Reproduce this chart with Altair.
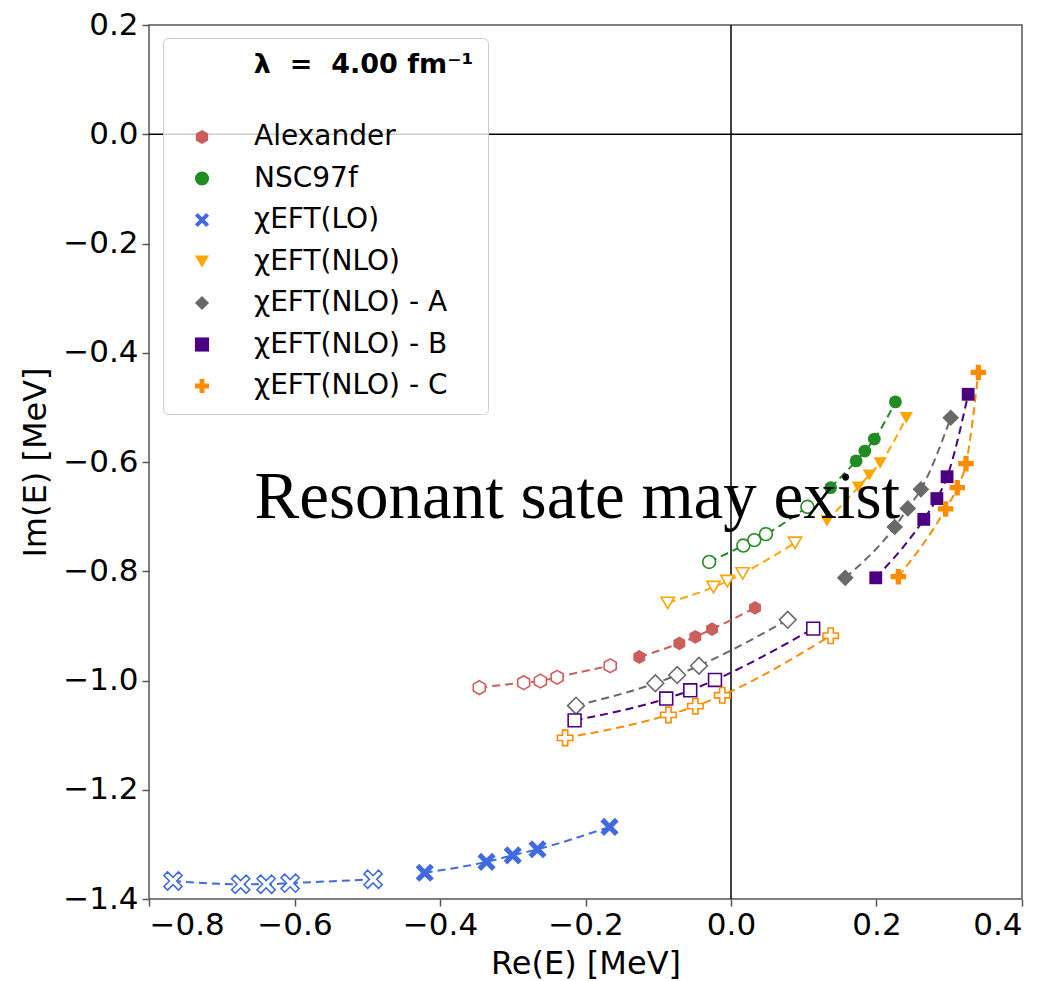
import altair as alt
import pandas as pd

# ---------------- data ----------------
models = ["Alexander", "NSC97f", "χEFT(LO)", "χEFT(NLO)",
          "χEFT(NLO) - A", "χEFT(NLO) - B", "χEFT(NLO) - C"]
colors = ["#CD5C5C", "#228B22", "#4169E1", "#FFA500",
          "#696969", "#4B0082", "#FF8C00"]

alex_open_x = [-0.346, -0.285, -0.262, -0.239, -0.166]
alex_open_y = [-1.013, -1.004, -1.001, -0.994, -0.973]
alex_fill_x = [-0.126, -0.071, -0.049, -0.026, 0.033]
alex_fill_y = [-0.957, -0.932, -0.920, -0.906, -0.867]

nsc_open_x = [-0.030, 0.017, 0.032, 0.048, 0.105]
nsc_open_y = [-0.783, -0.753, -0.743, -0.732, -0.682]
nsc_fill_x = [0.137, 0.172, 0.184, 0.197, 0.226]
nsc_fill_y = [-0.647, -0.598, -0.580, -0.558, -0.490]

lo_open_x = [-0.767, -0.674, -0.639, -0.606, -0.492]
lo_open_y = [-1.367, -1.373, -1.373, -1.371, -1.364]
lo_fill_x = [-0.421, -0.336, -0.300, -0.266, -0.167]
lo_fill_y = [-1.352, -1.332, -1.320, -1.309, -1.268]

nlo_open_x = [-0.087, -0.024, -0.005, 0.016, 0.088]
nlo_open_y = [-0.858, -0.829, -0.818, -0.804, -0.748]
nlo_fill_x = [0.132, 0.175, 0.190, 0.205, 0.241]
nlo_fill_y = [-0.708, -0.646, -0.624, -0.602, -0.519]

a_open_x = [-0.213, -0.104, -0.074, -0.044, 0.078]
a_open_y = [-1.046, -1.005, -0.990, -0.973, -0.889]
a_fill_x = [0.157, 0.225, 0.243, 0.261, 0.302]
a_fill_y = [-0.812, -0.719, -0.685, -0.650, -0.519]

b_open_x = [-0.215, -0.089, -0.056, -0.022, 0.113]
b_open_y = [-1.073, -1.033, -1.018, -0.999, -0.905]
b_fill_x = [0.199, 0.265, 0.283, 0.297, 0.326]
b_fill_y = [-0.812, -0.705, -0.667, -0.627, -0.476]

c_open_x = [-0.228, -0.086, -0.049, -0.012, 0.137]
c_open_y = [-1.105, -1.063, -1.047, -1.027, -0.918]
c_fill_x = [0.230, 0.295, 0.311, 0.323, 0.340]
c_fill_y = [-0.810, -0.686, -0.647, -0.603, -0.436]

x_ticks = [-0.8, -0.6, -0.4, -0.2, 0.0, 0.2, 0.4]
y_ticks = [-1.4, -1.2, -1.0, -0.8, -0.6, -0.4, -0.2, 0.0, 0.2]
zero_x = [0.0]
zero_y = [0.0]
annot_text = ["Resonant sate may exist"]
annot_x = [-0.655]
annot_y = [-0.703]
legend_title = "\u2800" * 3 + "\u2002λ\u2002\u2009=\u2002\u20094.00 fm⁻¹"

# ---------------- shapes / sizes ----------------
HEX = "M0,-1L0.866,-0.5L0.866,0.5L0,1L-0.866,0.5L-0.866,-0.5Z"
XSHAPE = ("M-0.6,-1L0,-0.4L0.6,-1L1,-0.6L0.4,0L1,0.6L0.6,1L0,0.4"
          "L-0.6,1L-1,0.6L-0.4,0L-1,-0.6Z")
PLUS = ("M-0.34,-1L0.34,-1L0.34,-0.34L1,-0.34L1,0.34L0.34,0.34L0.34,1"
        "L-0.34,1L-0.34,0.34L-1,0.34L-1,-0.34L-0.34,-0.34Z")
shapes = [HEX, "circle", XSHAPE, "triangle-down", "diamond", "square", PLUS]
sizes = [190, 165, 330, 175, 280, 165, 240]
shape_of = dict(zip(models, shapes))
size_of = dict(zip(models, sizes))
color_of = dict(zip(models, colors))

series = [
    ("Alexander", alex_open_x, alex_open_y, alex_fill_x, alex_fill_y),
    ("NSC97f", nsc_open_x, nsc_open_y, nsc_fill_x, nsc_fill_y),
    ("χEFT(LO)", lo_open_x, lo_open_y, lo_fill_x, lo_fill_y),
    ("χEFT(NLO)", nlo_open_x, nlo_open_y, nlo_fill_x, nlo_fill_y),
    ("χEFT(NLO) - A", a_open_x, a_open_y, a_fill_x, a_fill_y),
    ("χEFT(NLO) - B", b_open_x, b_open_y, b_fill_x, b_fill_y),
    ("χEFT(NLO) - C", c_open_x, c_open_y, c_fill_x, c_fill_y),
]
rows = []
for name, ox, oy, fx, fy in series:
    for kind, xs_, ys_ in (("open", ox, oy), ("filled", fx, fy)):
        for xv, yv in zip(xs_, ys_):
            rows.append({"model": name, "kind": kind, "group": name + "|" + kind,
                         "x": xv, "y": yv, "shp": shape_of[name],
                         "sz": size_of[name], "col": color_of[name]})
df = pd.DataFrame(rows)

color_scale = alt.Scale(domain=models, range=colors)
shape_scale = alt.Scale(domain=models, range=shapes)

xs = alt.Scale(domain=[-0.8, 0.4], nice=False, zero=False)
ys = alt.Scale(domain=[-1.4, 0.2], nice=False, zero=False)

x_axis = alt.Axis(values=x_ticks, format=".1f", title="Re(E) [MeV]")
y_axis = alt.Axis(values=y_ticks, format=".1f", title="Im(E) [MeV]")

legend = alt.Legend(
    title=legend_title, orient="none", legendX=14, legendY=13,
    padding=14, symbolOffset=11, labelOffset=38, rowPadding=13.5,
    titlePadding=44, labelLimit=500, titleLimit=600, symbolSize=200,
    fillColor="rgba(255,255,255,0.8)", strokeColor="#cccccc", cornerRadius=5,
    labelFont="DejaVu Sans", labelFontSize=28, titleFont="DejaVu Sans",
    titleFontSize=27, titleFontWeight="bold", symbolStrokeWidth=0,
)

base = alt.Chart(df)

lines = base.mark_line(strokeDash=[8, 5], strokeWidth=2, interpolate="monotone").encode(
    x=alt.X("x:Q", scale=xs, axis=x_axis),
    y=alt.Y("y:Q", scale=ys, axis=y_axis),
    stroke=alt.Stroke("col:N", scale=None),
    detail="group:N",
    order="x:Q",
)

open_pts = base.transform_filter(alt.datum.kind == "open").mark_point(
    filled=True, fill="white", fillOpacity=1, strokeWidth=1.6, opacity=1
).encode(
    x=alt.X("x:Q", scale=xs),
    y=alt.Y("y:Q", scale=ys),
    stroke=alt.Stroke("col:N", scale=None),
    shape=alt.Shape("shp:N", scale=None),
    size=alt.Size("sz:Q", scale=None),
)

filled_pts = base.transform_filter(alt.datum.kind == "filled").mark_point(
    filled=True, opacity=1
).encode(
    x=alt.X("x:Q", scale=xs),
    y=alt.Y("y:Q", scale=ys),
    color=alt.Color("model:N", scale=color_scale, legend=legend),
    shape=alt.Shape("model:N", scale=shape_scale, legend=legend),
    size=alt.Size("sz:Q", scale=None),
)

vrule = alt.Chart(pd.DataFrame({"x": zero_x})).mark_rule(color="black", strokeWidth=1.5).encode(
    x=alt.X("x:Q", scale=xs)
)
hrule = alt.Chart(pd.DataFrame({"y": zero_y})).mark_rule(color="black", strokeWidth=1.5).encode(
    y=alt.Y("y:Q", scale=ys)
)

annot = alt.Chart(pd.DataFrame({"x": annot_x, "y": annot_y, "t": annot_text})).mark_text(
    align="left", baseline="alphabetic", font="Liberation Serif", fontSize=67, color="black"
).encode(
    x=alt.X("x:Q", scale=xs),
    y=alt.Y("y:Q", scale=ys),
    text="t:N",
)

chart = alt.layer(vrule, hrule, lines, open_pts, filled_pts, annot).properties(
    width=873, height=874,
    padding={"left": 149, "top": 25, "right": 34, "bottom": 82},
    autosize=alt.AutoSizeParams(type="none"),
    background="white",
).configure_view(
    stroke="#555555", strokeWidth=1.5
).configure_axis(
    grid=False, domain=False, labelFont="DejaVu Sans", labelFontSize=31,
    labelColor="black", titleFont="DejaVu Sans", titleFontSize=32,
    titleFontWeight="normal", titleColor="black", tickSize=7, tickWidth=1.5,
    tickColor="#555555", labelPadding=4,
).configure_axisX(titlePadding=8).configure_axisY(titlePadding=10)

chart.save("out.html", embed_options={"renderer": "svg", "actions": False})
